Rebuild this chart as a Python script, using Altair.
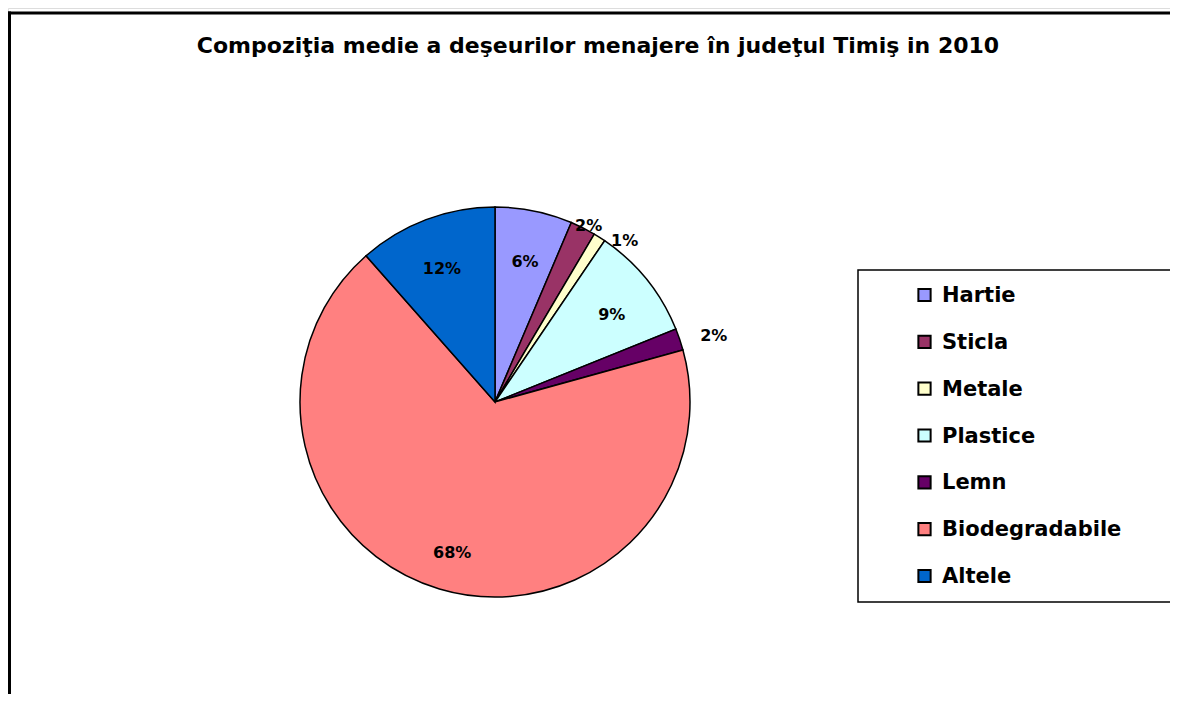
import altair as alt
import pandas as pd

categories = ["Hartie", "Sticla", "Metale", "Plastice", "Lemn", "Biodegradabile", "Altele"]
values = [6.4, 2.1, 1.0, 9.4, 1.8, 67.8, 11.5]
labels = ["6%", "2%", "1%", "9%", "2%", "68%", "12%"]
colors = ["#9999FF", "#993366", "#FFFFCC", "#CCFFFF", "#660066", "#FF8080", "#0066CC"]
title_text = "Compoziţia medie a deşeurilor menajere în judeţul Timiş in 2010"

df = pd.DataFrame({"cat": categories, "value": values, "label": labels, "ord": list(range(len(categories)))})

W, H = 1162, 686
CX, CY, R = 487, 394, 195
FONT = "DejaVu Sans"

color_scale = alt.Scale(domain=categories, range=colors)
base = alt.Chart(df)
theta = alt.Theta("value:Q", stack=True)
order = alt.Order("ord:Q")

pie = base.mark_arc(radius=R, stroke="black", strokeWidth=1.5).encode(
    theta=theta, order=order,
    color=alt.Color("cat:N", scale=color_scale, legend=None),
    x=alt.value(CX), y=alt.value(CY),
)


def pct_layer(test, radius, dx=0, dy=0):
    return base.mark_text(
        radius=radius, font=FONT, fontWeight="bold", fontSize=16, color="black", dx=dx, dy=dy
    ).encode(
        theta=theta, order=order,
        text=alt.condition(test, alt.Text("label:N"), alt.value("")),
        x=alt.value(CX), y=alt.value(CY),
    )


inside = pct_layer("datum.value >= 5", 150, 0, 7)
out_sticla = pct_layer("datum.cat == 'Sticla'", 212, -2, 13)
out_metale = pct_layer("datum.cat == 'Metale'", 212, 16, 18)
out_lemn = pct_layer("datum.cat == 'Lemn'", 212, 18, 2)

title = alt.Chart(pd.DataFrame({"t": [title_text]})).mark_text(
    font=FONT, fontWeight="bold", fontSize=22, align="center", baseline="alphabetic", color="black"
).encode(text="t:N", x=alt.value(590), y=alt.value(45))

frame_left = alt.Chart(pd.DataFrame({"a": [0]})).mark_rule(color="black", strokeWidth=3).encode(
    x=alt.value(1.5), y=alt.value(3.5), y2=alt.value(H)
)
frame_top = alt.Chart(pd.DataFrame({"a": [0]})).mark_rule(color="black", strokeWidth=3).encode(
    y=alt.value(5), x=alt.value(0), x2=alt.value(W)
)

legend_box = alt.Chart(pd.DataFrame({"a": [0]})).mark_rect(
    fill="white", stroke="black", strokeWidth=1.5
).encode(x=alt.value(850), x2=alt.value(1200), y=alt.value(262), y2=alt.value(594))

leg_y = alt.Y("cat:N", scale=alt.Scale(domain=categories, range=[287, 568], type="point", padding=0), axis=None)

legend_sq = base.mark_square(size=150, stroke="black", strokeWidth=2, opacity=1).encode(
    y=leg_y, x=alt.value(916.5),
    fill=alt.Fill("cat:N", scale=color_scale, legend=None),
)
legend_txt = base.mark_text(
    font=FONT, fontWeight="bold", fontSize=21, align="left", baseline="middle", color="black", dy=1
).encode(y=leg_y, x=alt.value(934), text="cat:N")

chart = alt.layer(
    frame_left, frame_top, title, pie, inside, out_sticla, out_metale, out_lemn,
    legend_box, legend_sq, legend_txt
).properties(
    width=W, height=H, autosize=alt.AutoSizeParams(type="none"), padding=0
).configure_view(strokeWidth=0).configure(background="white")

chart.save("out.html", embed_options={"renderer": "svg", "actions": False})
